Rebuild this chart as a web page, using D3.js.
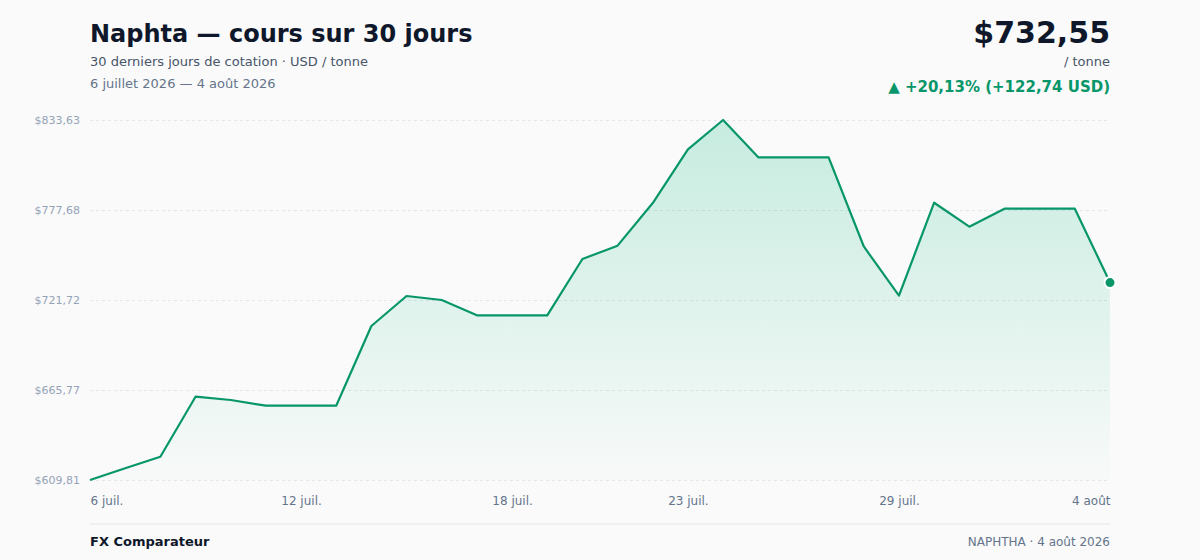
<!DOCTYPE html>
<html>
<head>
<meta charset="utf-8">
<script src="https://cdn.jsdelivr.net/npm/d3@7"></script>
<style>
  html, body { margin: 0; padding: 0; background: #fafafa; }
  svg { display: block; font-family: "DejaVu Sans", sans-serif; }
</style>
</head>
<body>
<div id="chart"></div>
<script>
// cours journaliers, USD / tonne
const days = [
  '2026-07-06','2026-07-07','2026-07-08','2026-07-09','2026-07-10','2026-07-11',
  '2026-07-12','2026-07-13','2026-07-14','2026-07-15','2026-07-16','2026-07-17',
  '2026-07-18','2026-07-19','2026-07-20','2026-07-21','2026-07-22','2026-07-23',
  '2026-07-24','2026-07-25','2026-07-26','2026-07-27','2026-07-28','2026-07-29',
  '2026-07-30','2026-07-31','2026-08-01','2026-08-02','2026-08-03','2026-08-04'
];
const prices = [
  609.812, 617.10, 624.30, 661.60, 659.55, 656.00,
  656.00, 656.00, 705.56, 724.21, 721.72, 712.20,
  712.20, 712.20, 747.20, 755.50, 782.00, 815.40,
  833.632, 810.40, 810.40, 810.40, 755.00, 724.40,
  782.20, 767.30, 778.50, 778.50, 778.50, 732.55
];
const tickDays = ['2026-07-06','2026-07-12','2026-07-18','2026-07-23','2026-07-29','2026-08-04'];
const tickLabels = ['6 juil.','12 juil.','18 juil.','23 juil.','29 juil.','4 août'];

const W = 1200, H = 560;
const margin = {top: 120, right: 90, bottom: 80, left: 90};
const green = '#079669';

const parse = d3.timeParse('%Y-%m-%d');
const data = days.map((d, i) => ({date: parse(d), v: prices[i]}));

const svg = d3.select('#chart').append('svg')
  .attr('width', W).attr('height', H);

svg.append('rect').attr('width', W).attr('height', H).attr('fill', '#fafafa');

const x = d3.scaleTime()
  .domain(d3.extent(data, d => d.date))
  .range([margin.left, W - margin.right]);

const minV = d3.min(prices), maxV = d3.max(prices);
const y = d3.scaleLinear()
  .domain([minV, maxV])
  .range([H - margin.bottom, margin.top]);

const fmt = v => '$' + v.toFixed(2).replace('.', ',');
const yTicks = d3.range(5).map(i => minV + (maxV - minV) * i / 4);

// header
svg.append('text').attr('x', 90).attr('y', 42)
  .attr('font-size', 24).attr('font-weight', 'bold').attr('fill', '#0f172a')
  .text('Naphta — cours sur 30 jours');
svg.append('text').attr('x', 90).attr('y', 66)
  .attr('font-size', 13).attr('fill', '#475569')
  .text('30 derniers jours de cotation · USD / tonne');
svg.append('text').attr('x', 90).attr('y', 88)
  .attr('font-size', 13).attr('fill', '#64748b')
  .text('6 juillet 2026 — 4 août 2026');

const last = prices[prices.length - 1], first = prices[0];
const diff = last - first, pct = diff / first * 100;
const fr = v => v.toFixed(2).replace('.', ',');

svg.append('text').attr('x', 1110).attr('y', 43).attr('text-anchor', 'end')
  .attr('font-size', 30).attr('font-weight', 'bold').attr('fill', '#0f172a')
  .text(fmt(last));
svg.append('text').attr('x', 1110).attr('y', 66).attr('text-anchor', 'end')
  .attr('font-size', 13).attr('fill', '#475569')
  .text('/ tonne');
svg.append('text').attr('x', 1110).attr('y', 92).attr('text-anchor', 'end')
  .attr('font-size', 15).attr('font-weight', 'bold').attr('fill', green)
  .text('▲ +' + fr(pct) + '% (+' + fr(diff) + ' USD)');

// grid + y labels
const yAxis = d3.axisLeft(y).tickValues(yTicks)
  .tickSize(-(W - margin.left - margin.right)).tickPadding(10).tickFormat(fmt);
const gy = svg.append('g').attr('transform', 'translate(' + margin.left + ',0)').call(yAxis);
gy.select('.domain').remove();
gy.selectAll('.tick line').attr('stroke', '#e2e5ea').attr('stroke-dasharray', '3,3');
gy.selectAll('.tick text').attr('font-size', 11).attr('fill', '#94a3b8')
  .attr('font-family', '"DejaVu Sans", sans-serif');

// area gradient
const defs = svg.append('defs');
const grad = defs.append('linearGradient').attr('id', 'fillGrad')
  .attr('x1', 0).attr('y1', 0).attr('x2', 0).attr('y2', 1);
grad.append('stop').attr('offset', '0%').attr('stop-color', '#10b981').attr('stop-opacity', 0.22);
grad.append('stop').attr('offset', '100%').attr('stop-color', '#10b981').attr('stop-opacity', 0.01);

const area = d3.area()
  .x(d => x(d.date)).y0(H - margin.bottom).y1(d => y(d.v));
svg.append('path').datum(data).attr('d', area).attr('fill', 'url(#fillGrad)');

const line = d3.line().x(d => x(d.date)).y(d => y(d.v));
svg.append('path').datum(data).attr('d', line)
  .attr('fill', 'none').attr('stroke', green).attr('stroke-width', 2.2)
  .attr('stroke-linejoin', 'round');

const end = data[data.length - 1];
svg.append('circle').attr('cx', x(end.date)).attr('cy', y(end.v)).attr('r', 5.5)
  .attr('fill', green).attr('stroke', '#fff').attr('stroke-width', 2);

// x axis
const xAxis = d3.axisBottom(x).tickValues(tickDays.map(parse))
  .tickSize(0).tickPadding(0)
  .tickFormat((d, i) => tickLabels[i]);
const gx = svg.append('g').attr('transform', 'translate(0,' + (H - margin.bottom) + ')').call(xAxis);
gx.select('.domain').remove();
gx.selectAll('.tick text')
  .attr('y', 25).attr('dy', 0)
  .attr('font-size', 12).attr('fill', '#64748b')
  .attr('font-family', '"DejaVu Sans", sans-serif')
  .attr('text-anchor', (d, i, n) => i === 0 ? 'start' : (i === n.length - 1 ? 'end' : 'middle'));

// footer
svg.append('line').attr('x1', 90).attr('x2', 1110).attr('y1', 524).attr('y2', 524)
  .attr('stroke', '#e5e7eb').attr('stroke-width', 1);
svg.append('text').attr('x', 90).attr('y', 546)
  .attr('font-size', 13).attr('font-weight', 'bold').attr('fill', '#0f172a')
  .text('FX Comparateur');
svg.append('text').attr('x', 1110).attr('y', 546).attr('text-anchor', 'end')
  .attr('font-size', 12).attr('fill', '#64748b')
  .text('NAPHTHA · 4 août 2026');
</script>
</body>
</html>
